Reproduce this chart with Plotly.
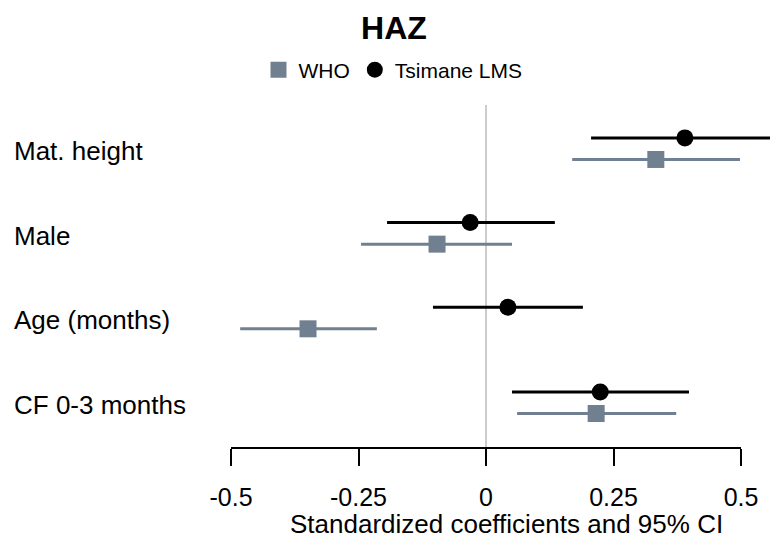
import plotly.graph_objects as go

# ---- data ----
categories = ["Mat. height", "Male", "Age (months)", "CF 0-3 months"]

tsimane_coef = [0.390, -0.031, 0.043, 0.224]
tsimane_lo = [0.206, -0.194, -0.104, 0.051]
tsimane_hi = [0.580, 0.135, 0.190, 0.398]

who_coef = [0.333, -0.096, -0.349, 0.216]
who_lo = [0.169, -0.245, -0.482, 0.061]
who_hi = [0.498, 0.051, -0.214, 0.373]

tick_vals = [-0.5, -0.25, 0, 0.25, 0.5]
tick_text = ["-0.5", "-0.25", "0", "0.25", "0.5"]

x_title = "Standardized coefficients and 95% CI"

# ---- layout constants (page offset of 8px from body margin) ----
OFF = 8
W, H = 778 - OFF, 540 - OFF
L = 222 - OFF
R = 0
T = 105 - OFF
B = 540 - 448
PX_PER_UNIT = 510.0
ZERO_PX = 486.0 - OFF
FONT = "Liberation Sans, Arial, Helvetica, sans-serif"
SLATE = "#708090"

idx = list(range(len(categories)))
y_ts = [i - 0.155 for i in idx]
y_who = [i + 0.10 for i in idx]

fig = go.Figure()

fig.add_trace(go.Scatter(
    x=who_coef, y=y_who, mode="markers", name="WHO",
    marker=dict(symbol="square", size=17, color=SLATE),
    error_x=dict(type="data", symmetric=False,
                 array=[h - c for h, c in zip(who_hi, who_coef)],
                 arrayminus=[c - l for c, l in zip(who_coef, who_lo)],
                 color=SLATE, thickness=3, width=0),
))
fig.add_trace(go.Scatter(
    x=tsimane_coef, y=y_ts, mode="markers", name="Tsimane LMS",
    marker=dict(symbol="circle", size=17, color="black"),
    error_x=dict(type="data", symmetric=False,
                 array=[h - c for h, c in zip(tsimane_hi, tsimane_coef)],
                 arrayminus=[c - l for c, l in zip(tsimane_coef, tsimane_lo)],
                 color="black", thickness=3, width=0),
))

plot_w = W - L - R
x_range = [(L - ZERO_PX) / PX_PER_UNIT, (W - R - ZERO_PX) / PX_PER_UNIT]

cat_px = 84.67
top_label_px = 151.0 - OFF
y_top = (T - top_label_px) / cat_px
y_bot = ((H - B) - top_label_px) / cat_px

# zero reference line
fig.add_shape(type="line", xref="x", yref="paper", x0=0, x1=0, y0=0, y1=1,
              line=dict(color="#cccccc", width=2), layer="below")
# axis line spanning tick range only
fig.add_shape(type="line", xref="x", yref="paper", x0=tick_vals[0], x1=tick_vals[-1],
              y0=0, y1=0, line=dict(color="black", width=2), layer="above")

for i, c in enumerate(categories):
    fig.add_annotation(text=c, xref="paper", x=(12 - OFF - L) / plot_w, xanchor="left",
                       yref="y", y=i, yanchor="middle", showarrow=False,
                       font=dict(size=26, color="black", family=FONT))

# x-axis title
fig.add_annotation(text=x_title, xref="paper", x=(506 - OFF - L) / plot_w, xanchor="center",
                   yref="paper", y=0, yanchor="middle", yshift=-(524 - 448),
                   showarrow=False, borderpad=0,
                   font=dict(size=26, color="black", family=FONT))

fig.update_layout(
    width=W, height=H,
    margin=dict(l=L, r=R, t=T, b=B, pad=0),
    paper_bgcolor="white", plot_bgcolor="white",
    font=dict(family=FONT, color="black"),
    title=dict(text="<b>HAZ</b>", xref="container", x=(394 - OFF) / W, xanchor="center",
               yref="container", y=(H - (28 - OFF)) / H, yanchor="middle",
               font=dict(size=32, family=FONT, color="black")),
    legend=dict(orientation="h", xref="container", x=(393 - OFF) / W, xanchor="center",
                yref="container", y=(H - (70 - OFF)) / H, yanchor="middle",
                font=dict(size=21, family=FONT, color="black"),
                itemsizing="trace", bgcolor="rgba(0,0,0,0)"),
    showlegend=True,
    xaxis=dict(range=x_range, tickvals=tick_vals, ticktext=tick_text,
               showgrid=False, zeroline=False, showline=False,
               ticks="outside", ticklen=17, tickwidth=2, tickcolor="black",
               ticklabelstandoff=10,
               tickfont=dict(size=25, family=FONT, color="black"),
               fixedrange=True),
    yaxis=dict(range=[y_bot, y_top], showgrid=False, zeroline=False,
               showline=False, showticklabels=False, ticks=""),
)

fig.write_html("out.html")
